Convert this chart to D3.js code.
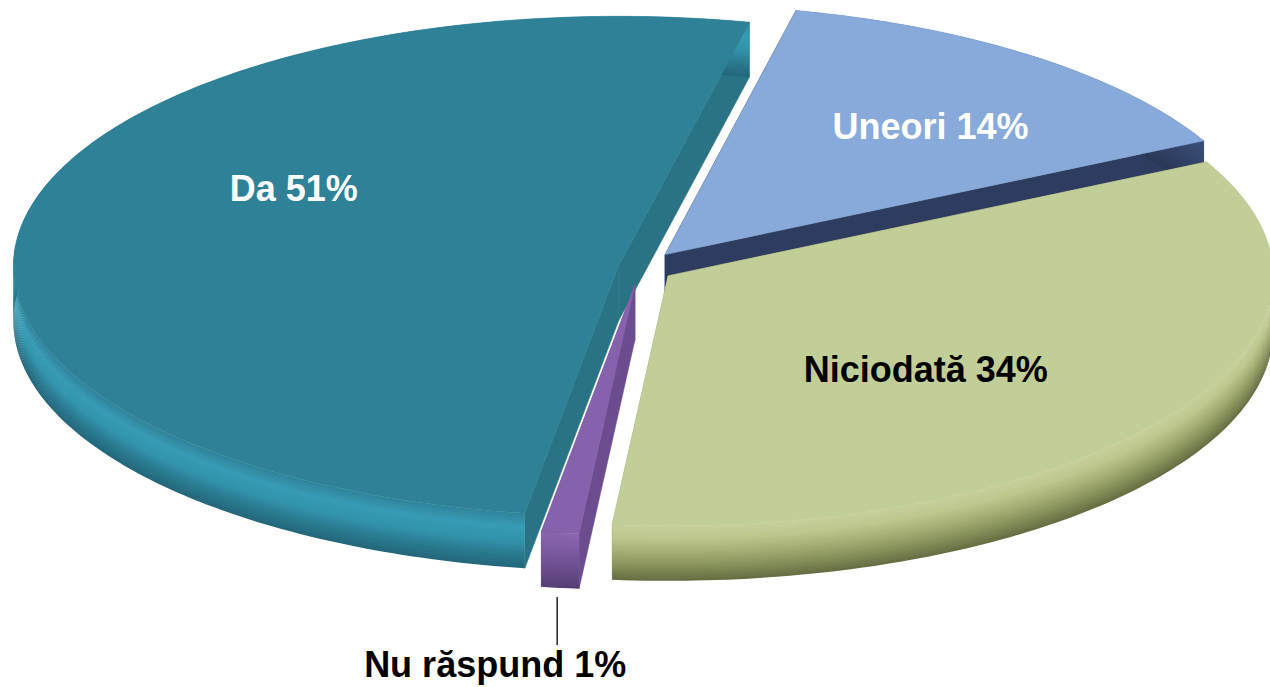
<!DOCTYPE html>
<html>
<head>
<meta charset="utf-8">
<script src="https://cdn.jsdelivr.net/npm/d3@7"></script>
<style>
  body { margin: 0; background: #fff; }
  svg { display: block; }
  text { font-family: "Liberation Sans", Arial, sans-serif; font-weight: bold; font-size: 36px; }
</style>
</head>
<body>
<svg width="1270" height="687"></svg>
<script>
// data
const categories = ["Da", "Uneori", "Niciodată", "Nu răspund"];
const values = [51, 14, 34, 1];

// colours per slice: top face, radial wall, rim (top -> bottom)
const topColors = ["#2E8197", "#87AADA", "#C2CE98", "#8762AC"];
const wallColors = ["#2A7384", "#2E3D5F", "#8E9962", "#6B4C8E"];
const rimStops = [
    ["#2F8499", "#379BB5", "#3294AC", "#2A7A90", "#23667A"],
    ["#3B4F7A", "#33446A", "#2A3756"],
    ["#C7CF9D", "#BCC68C", "#A3AD72", "#858F59", "#646C41"],
    ["#8A66AF", "#7C5AA2", "#6A4D8D", "#563E74"]
];
const labelColors = ["#fff", "#fff", "#000", "#000"];
const explode = [22, 41, 34, 41];
const labelNudge = [[44, -37], [36, 7], [-53, 19], null];

// geometry of the tilted pie
const attr = { cx: 640, cy: 268, rx: 605, ry: 250, depth: 55, startDeg: -171.1, labelR: 0.62 };

function drawPie() {
    const svg = d3.select("svg");
    const k = attr.ry / attr.rx;
    const start = attr.startDeg * Math.PI / 180;

    let pie = d3.pie()
        .sort(null)
        .value(d => d.value)
        .startAngle(start)
        .endAngle(start + 2 * Math.PI);

    let arcs = pie(categories.map((c, i) => ({ name: c, value: values[i], i: i })));

    // apex of every slice after the explosion
    arcs.forEach(a => {
        a.mid = (a.startAngle + a.endAngle) / 2;
        const e = explode[a.data.i];
        a.ax = attr.cx + e * Math.sin(a.mid);
        a.ay = attr.cy - e * k * Math.cos(a.mid);
    });

    const pt = (a, t, z) => [a.ax + attr.rx * Math.sin(t), a.ay - attr.ry * Math.cos(t) + z];
    const arcPts = (a, z) => {
        const n = Math.max(4, Math.ceil((a.endAngle - a.startAngle) * 180 / Math.PI));
        return d3.range(n + 1).map(j => pt(a, a.startAngle + (a.endAngle - a.startAngle) * j / n, z));
    };
    const poly = pts => "M" + pts.map(p => p[0].toFixed(2) + "," + p[1].toFixed(2)).join("L") + "Z";

    // back slices first
    let order = arcs.slice().sort((a, b) => -Math.cos(a.mid) + Math.cos(b.mid));

    order.forEach(a => {
        const i = a.data.i;
        const g = svg.append("g");

        // radial walls
        [a.startAngle, a.endAngle].forEach(t => {
            g.append("path")
                .attr("d", poly([[a.ax, a.ay], pt(a, t, 0), pt(a, t, attr.depth), [a.ax, a.ay + attr.depth]]))
                .attr("fill", wallColors[i])
                .attr("stroke", wallColors[i])
                .attr("stroke-width", 0.6);
        });

        // outer rim in thin layers so the shading follows the curve
        const layers = 22;
        const col = d3.scaleLinear()
            .domain(rimStops[i].map((c, j) => j / (rimStops[i].length - 1)))
            .range(rimStops[i])
            .interpolate(d3.interpolateRgb);
        for (let l = 0; l < layers; l++) {
            const z0 = attr.depth * l / layers;
            const z1 = Math.min(attr.depth, attr.depth * (l + 1) / layers + 0.8);
            const c = col((l + 0.5) / layers);
            g.append("path")
                .attr("d", poly(arcPts(a, z0).concat(arcPts(a, z1).reverse())))
                .attr("fill", c);
        }

        // top face
        g.append("path")
            .attr("d", poly([[a.ax, a.ay]].concat(arcPts(a, 0))))
            .attr("fill", topColors[i])
            .attr("stroke", topColors[i])
            .attr("stroke-width", 0.6);
    });

    // labels
    arcs.forEach(a => {
        const i = a.data.i;
        const txt = a.data.name + " " + a.data.value + "%";
        if (labelNudge[i]) {
            const p = [a.ax + attr.rx * attr.labelR * Math.sin(a.mid), a.ay - attr.ry * attr.labelR * Math.cos(a.mid)];
            svg.append("text")
                .attr("x", p[0] + labelNudge[i][0])
                .attr("y", p[1] + labelNudge[i][1])
                .attr("text-anchor", "middle")
                .attr("fill", labelColors[i])
                .text(txt);
        } else {
            // outside label with leader line
            const p = pt(a, a.mid, attr.depth);
            svg.append("line")
                .attr("x1", p[0] - 3).attr("x2", p[0] - 3)
                .attr("y1", p[1] + 9).attr("y2", p[1] + 57)
                .attr("stroke", "#000")
                .attr("stroke-width", 1.3);
            svg.append("text")
                .attr("x", p[0] - 65)
                .attr("y", p[1] + 89)
                .attr("text-anchor", "middle")
                .attr("fill", labelColors[i])
                .text(txt);
        }
    });
}

drawPie();
</script>
</body>
</html>
